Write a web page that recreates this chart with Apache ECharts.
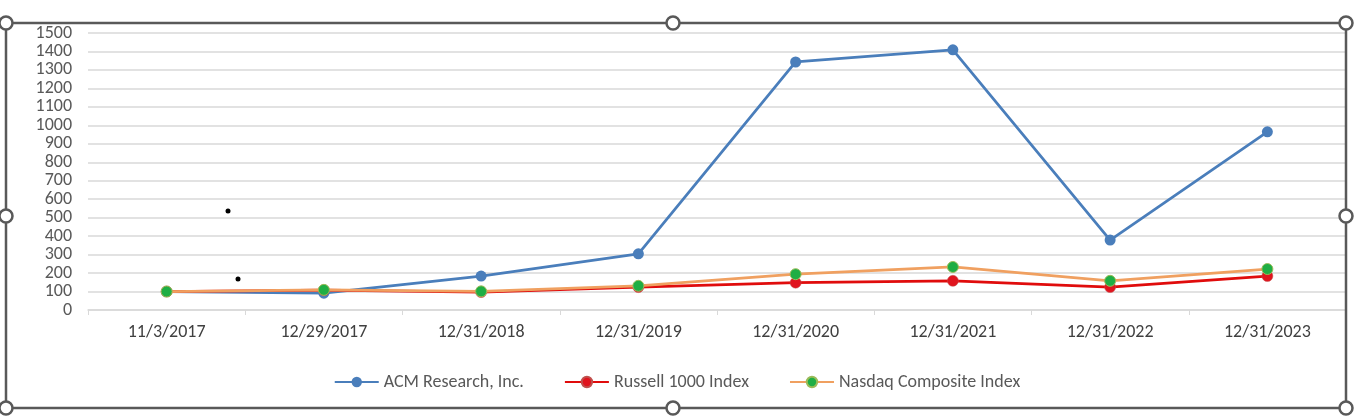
<!DOCTYPE html>
<html><head><meta charset="utf-8">
<script src="https://cdn.jsdelivr.net/npm/echarts@6/dist/echarts.min.js"></script>
<style>html,body{margin:0;padding:0;background:#fff}#c{width:1354px;height:418px}</style>
</head><body><div id="c"></div>
<script>
var categories = ['11/3/2017','12/29/2017','12/31/2018','12/31/2019','12/31/2020','12/31/2021','12/31/2022','12/31/2023'];
var acm = [100, 91, 184, 304, 1343, 1409, 379, 965];
var russell = [100, 107, 97, 124, 148, 158, 124, 184];
var nasdaq = [100, 109, 101, 131, 194, 233, 158, 222];
var yTicks = {min: 0, max: 1500, interval: 100};

var chart = echarts.init(document.getElementById('c'));
var font = 'Calibri, Carlito, "Liberation Sans", "Open Sans", sans-serif';
function handle(x, y) {
  return {type: 'circle', shape: {cx: x, cy: y, r: 6.5}, style: {fill: '#fff', stroke: '#595959', lineWidth: 2.5}, z: 100};
}
chart.setOption({
  animation: false,
  grid: {left: 88, right: 8, top: 33, bottom: 108},
  textStyle: {fontFamily: font},
  legend: {
    top: 368, left: 'center', itemWidth: 44, itemHeight: 13, itemGap: 40,
    textStyle: {color: '#595959', fontSize: 18, fontFamily: font},
    data: ['ACM Research, Inc.', 'Russell 1000 Index', 'Nasdaq Composite Index']
  },
  xAxis: {
    type: 'category', data: categories, boundaryGap: true,
    axisLine: {lineStyle: {color: '#d9d9d9', width: 1.5}},
    axisTick: {show: true, length: 5, lineStyle: {color: '#d9d9d9'}},
    axisLabel: {color: '#404040', fontSize: 18, margin: 13, fontFamily: font}
  },
  yAxis: {
    type: 'value', min: yTicks.min, max: yTicks.max, interval: yTicks.interval,
    axisLine: {show: false}, axisTick: {show: false},
    axisLabel: {color: '#595959', fontSize: 18, margin: 16, fontFamily: font,
      formatter: function (v) { return String(v); }},
    splitLine: {lineStyle: {color: '#d9d9d9', width: 1.5}}
  },
  series: [
    {name: 'ACM Research, Inc.', type: 'line', data: acm, symbol: 'circle', symbolSize: 11,
     lineStyle: {color: '#4a7ebb', width: 2.75}, itemStyle: {color: '#4a7ebb'}, z: 2},
    {name: 'Russell 1000 Index', type: 'line', data: russell, symbol: 'circle', symbolSize: 11,
     lineStyle: {color: '#e00c0c', width: 2.75}, itemStyle: {color: '#e0141e', borderColor: '#c0504d', borderWidth: 0.5}, z: 3},
    {name: 'Nasdaq Composite Index', type: 'line', data: nasdaq, symbol: 'circle', symbolSize: 11,
     lineStyle: {color: '#f0a060', width: 2.75}, itemStyle: {color: '#1fae44', borderColor: '#9bbb59', borderWidth: 1}, z: 4}
  ],
  graphic: [
    {type: 'rect', shape: {x: 6, y: 23, width: 1340, height: 385}, style: {fill: 'none', stroke: '#595959', lineWidth: 2.5}, z: 99},
    handle(6, 23), handle(673, 23), handle(1346, 23),
    handle(6, 216), handle(1346, 216),
    handle(6, 408), handle(673, 408), handle(1346, 408),
    {type: 'circle', shape: {cx: 228, cy: 211, r: 2.5}, style: {fill: '#000'}, z: 50},
    {type: 'circle', shape: {cx: 238, cy: 279, r: 2.5}, style: {fill: '#000'}, z: 50}
  ]
});
</script></body></html>
